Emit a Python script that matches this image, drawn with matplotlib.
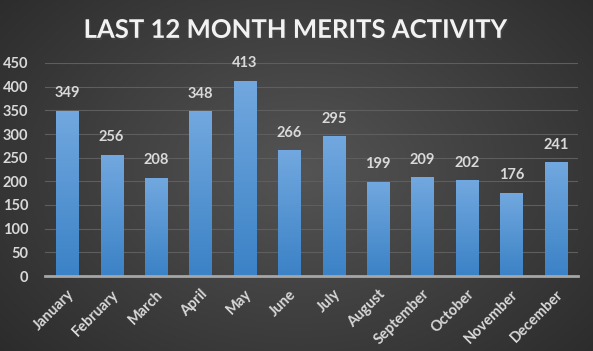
import numpy as np
import matplotlib
matplotlib.use("Agg")
import matplotlib.pyplot as plt
import matplotlib.patheffects as pe

months = ["January", "February", "March", "April", "May", "June",
          "July", "August", "September", "October", "November", "December"]
merits = [349, 256, 208, 348, 413, 266, 295, 199, 209, 202, 176, 241]
yticks = [0, 50, 100, 150, 200, 250, 300, 350, 400, 450]

plt.rcParams['font.family'] = ['Lato', 'DejaVu Sans']
plt.rcParams['font.weight'] = 'bold'

fig = plt.figure(figsize=(5.93, 3.51), dpi=100)

# radial gradient background
bg = fig.add_axes([0, 0, 1, 1], zorder=-10)
yy, xx = np.mgrid[0:351, 0:593]
r = np.sqrt(((xx - 300) / 420.0) ** 2 + ((yy - 170) / 300.0) ** 2)
shade = 0.33 - 0.17 * np.clip(r, 0, 1)
bg.imshow(np.dstack([shade, shade, shade]), aspect='auto', extent=[0, 1, 0, 1])
bg.axis('off')

ax = fig.add_axes([45 / 593, 75 / 351, 533 / 593, 213 / 351])
ax.patch.set_alpha(0)

x = np.arange(len(months))
bars = ax.bar(x, merits, width=0.5, color='#5b9bd5', zorder=2)

# vertical gradient on each bar
grad = np.linspace(0, 1, 100).reshape(-1, 1)
top = np.array([0x72, 0xa8, 0xdf]) / 255
bot = np.array([0x3b, 0x82, 0xc6]) / 255
cols = bot + (top - bot) * grad
img = cols.reshape(100, 1, 3)
for b in bars:
    x0, y0 = b.get_x(), b.get_y()
    im = ax.imshow(img, extent=[x0, x0 + b.get_width(), y0, y0 + b.get_height()],
                   aspect='auto', origin='lower', zorder=2)
    im.set_clip_path(b)

for xi, v in zip(x, merits):
    ax.text(xi, v + 22, str(v), ha='center', va='bottom', color='#d9d9d9',
            fontsize=10.5, fontweight='bold')

ax.set_xlim(-0.5, len(months) - 0.5)
ax.set_ylim(0, 450)
ax.set_yticks(yticks)
ax.set_xticks(x)
ax.set_xticklabels(months, rotation=45, ha='right', rotation_mode='anchor')
ax.tick_params(axis='both', length=0, colors='#d9d9d9', labelsize=10.5)
ax.tick_params(axis='y', pad=12)
ax.tick_params(axis='x', pad=8)
ax.grid(axis='y', color='#5e5e5e', linewidth=0.8, zorder=0)
ax.set_axisbelow(True)
for s in ['top', 'right', 'left']:
    ax.spines[s].set_visible(False)
ax.spines['bottom'].set_color('#a6a6a6')
ax.spines['bottom'].set_linewidth(2)
ax.spines['bottom'].set_zorder(3)

fig.text(0.5, 0.915, "LAST 12 MONTH MERITS ACTIVITY", ha='center', va='center',
         color='#f2f2f2', fontsize=18.5, fontweight='bold',
         path_effects=[pe.SimplePatchShadow(offset=(1, -1.5), alpha=0.6), pe.Normal()])

fig.savefig("out.png", dpi=100)
